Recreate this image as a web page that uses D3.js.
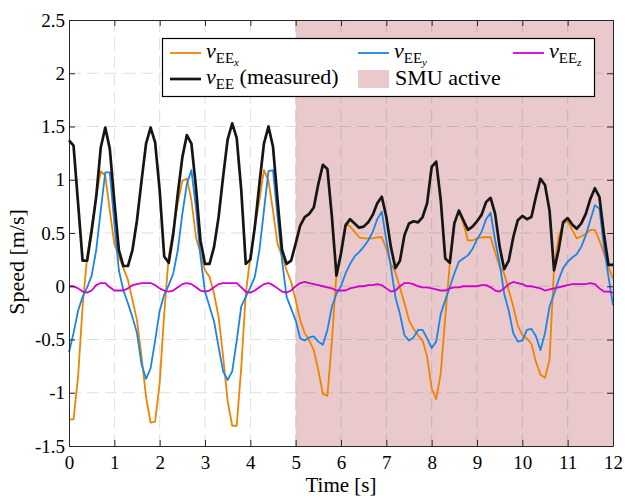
<!DOCTYPE html>
<html><head><meta charset="utf-8">
<script src="https://cdn.jsdelivr.net/npm/d3@7"></script>
<style>body{margin:0;background:#fff}</style>
</head><body><svg id="c" width="625" height="498" font-family="Liberation Serif"></svg>
<script>
// ---- data (sampled every 0.1 s) ----
const time = d3.range(0, 121).map(i => i / 10);
const vEEx = [-1.25,-1.25,-0.85,-0.19,0.28,0.56,0.84,1.08,1.04,0.71,
 0.40,0.28,0.17,0.06,-0.13,-0.32,-0.66,-1.04,-1.28,-1.27,
 -0.91,-0.26,0.28,0.53,0.78,0.99,1.01,0.81,0.46,0.31,
 0.15,0.09,-0.07,-0.29,-0.66,-1.08,-1.31,-1.31,-0.76,-0.07,
 0.28,0.56,0.81,1.09,0.99,0.71,0.40,0.28,0.15,0.04,
 -0.13,-0.32,-0.44,-0.51,-0.60,-0.79,-1.01,-1.03,-0.51,0.12,
 0.30,0.59,0.56,0.51,0.46,0.45,0.45,0.45,0.46,0.46,
 0.35,0.21,0.13,-0.01,-0.16,-0.32,-0.40,-0.46,-0.51,-0.66,
 -0.96,-1.06,-0.82,-0.29,0.21,0.59,0.70,0.59,0.43,0.43,
 0.45,0.46,0.46,0.46,0.32,0.18,0.12,-0.04,-0.19,-0.37,
 -0.46,-0.49,-0.54,-0.71,-0.83,-0.86,-0.69,0.18,0.46,0.59,
 0.61,0.53,0.45,0.47,0.49,0.53,0.53,0.43,0.31,0.18,0.07];
const vEEy = [-0.62,-0.44,-0.23,-0.10,-0.01,0.10,0.34,0.71,1.07,1.07,
 0.59,0.15,-0.04,-0.16,-0.29,-0.44,-0.73,-0.87,-0.77,-0.51,
 -0.23,-0.08,0.01,0.12,0.34,0.68,0.96,1.09,0.74,0.28,
 -0.05,-0.19,-0.33,-0.57,-0.80,-0.88,-0.80,-0.51,-0.19,-0.10,
 -0.01,0.09,0.34,0.71,1.08,1.09,0.65,0.24,-0.10,-0.21,
 -0.32,-0.49,-0.51,-0.48,-0.47,-0.52,-0.55,-0.41,-0.19,-0.07,
 0.00,0.12,0.21,0.28,0.32,0.37,0.43,0.51,0.63,0.70,
 0.43,0.18,-0.10,-0.26,-0.46,-0.51,-0.48,-0.41,-0.41,-0.49,
 -0.58,-0.52,-0.26,-0.13,-0.01,0.12,0.23,0.26,0.29,0.35,
 0.44,0.51,0.63,0.69,0.43,0.21,-0.07,-0.23,-0.44,-0.52,
 -0.51,-0.41,-0.40,-0.47,-0.60,-0.44,-0.19,-0.07,0.06,0.17,
 0.23,0.27,0.30,0.37,0.48,0.62,0.76,0.73,0.37,0.09,-0.18];
const vEEz = [0.00,0.00,-0.02,-0.05,-0.06,-0.04,0.01,0.03,0.03,-0.01,
 -0.04,-0.04,-0.04,-0.02,0.01,0.02,0.03,0.03,0.03,0.01,
 -0.02,-0.04,-0.05,-0.04,-0.01,0.02,0.03,0.02,-0.01,-0.04,
 -0.05,-0.04,-0.01,0.02,0.03,0.03,0.03,0.03,-0.01,-0.05,
 -0.06,-0.04,-0.01,0.02,0.03,0.01,-0.02,-0.05,-0.06,-0.04,
 0.00,0.03,0.04,0.03,0.02,0.01,0.00,-0.01,-0.02,-0.04,
 -0.04,-0.04,-0.02,-0.01,0.00,0.00,0.01,0.01,0.02,0.01,
 -0.02,-0.05,-0.04,0.00,0.03,0.03,0.02,0.00,-0.01,-0.01,
 -0.02,-0.03,-0.04,-0.04,-0.02,-0.01,-0.01,0.00,0.00,0.00,
 0.00,0.01,0.01,-0.01,-0.04,-0.05,-0.02,0.02,0.04,0.03,
 0.02,0.00,0.00,-0.01,-0.02,-0.04,-0.03,-0.02,-0.01,0.00,
 0.01,0.02,0.02,0.02,0.02,0.03,0.02,-0.02,-0.05,-0.05,-0.06];
const vEE = [1.37,1.32,0.78,0.24,0.24,0.52,0.84,1.30,1.49,1.29,
 0.80,0.34,0.19,0.19,0.34,0.62,0.99,1.34,1.49,1.35,
 0.90,0.28,0.22,0.49,0.87,1.21,1.42,1.34,0.93,0.43,
 0.21,0.21,0.37,0.65,1.03,1.38,1.53,1.39,0.90,0.21,
 0.25,0.56,0.96,1.34,1.50,1.31,0.81,0.34,0.21,0.24,
 0.40,0.57,0.65,0.68,0.74,0.96,1.14,1.10,0.65,0.10,
 0.31,0.57,0.63,0.59,0.55,0.56,0.60,0.67,0.78,0.84,
 0.65,0.37,0.17,0.24,0.48,0.59,0.61,0.60,0.65,0.78,
 1.12,1.17,0.81,0.26,0.22,0.59,0.71,0.62,0.53,0.56,
 0.61,0.67,0.79,0.83,0.68,0.37,0.16,0.24,0.46,0.62,
 0.66,0.63,0.65,0.84,1.01,0.95,0.71,0.15,0.34,0.60,
 0.64,0.58,0.54,0.59,0.68,0.82,0.92,0.84,0.49,0.20,0.20];
const smuInterval = [5, 12];
const xTicks = [0,1,2,3,4,5,6,7,8,9,10,11,12];
const yTicks = [-1.5,-1,-0.5,0,0.5,1,1.5,2,2.5];
const xDomain = [0, 12];
const yDomain = [-1.5, 2.5];

// ---- drawing ----
const FONT = "Liberation Serif";
const svg = d3.select("#c");
const L = 69, R = 613, T = 20, B = 446;
const x = d3.scaleLinear().domain(xDomain).range([L, R]);
const y = d3.scaleLinear().domain(yDomain).range([B, T]);
const axisCol = "#262626";

// SMU shading
svg.append("rect").attr("x", x(smuInterval[0])).attr("y", T)
  .attr("width", x(smuInterval[1]) - x(smuInterval[0])).attr("height", B - T)
  .attr("fill", "#e9c9cc");

// grid
const grid = svg.append("g").attr("stroke", "#262626").attr("stroke-opacity", 0.15)
  .attr("stroke-dasharray", "12,6").attr("stroke-width", 1);
grid.selectAll("line.v").data(xTicks.slice(1, -1)).join("line")
  .attr("x1", d => x(d)).attr("x2", d => x(d)).attr("y1", T).attr("y2", B);
grid.selectAll("line.h").data(yTicks.slice(1, -1)).join("line")
  .attr("y1", d => y(d)).attr("y2", d => y(d)).attr("x1", L).attr("x2", R);

// lines
const series = [
  {v: vEEx, c: "#ef8400", w: 1.8},
  {v: vEEy, c: "#1a85e6", w: 1.8},
  {v: vEEz, c: "#d000d0", w: 1.8},
  {v: vEE,  c: "#151515", w: 2.7}
];
const line = d3.line().x((d, i) => x(time[i])).y(d => y(d));
svg.selectAll("path.s").data(series).join("path")
  .attr("fill", "none").attr("stroke", d => d.c).attr("stroke-width", d => d.w)
  .attr("stroke-linejoin", "round").attr("d", d => line(d.v));

// axes
const ax = (g, a) => { g.call(a); g.attr("font-family", FONT).attr("font-size", 19);
  g.select(".domain").attr("stroke", axisCol);
  g.selectAll(".tick line").attr("stroke", axisCol);
  g.selectAll("text").attr("fill", "#000").attr("font-family", FONT).attr("font-size", 19); };
svg.append("g").attr("transform", `translate(0,${B})`)
  .call(g => ax(g, d3.axisBottom(x).tickValues(xTicks).tickSizeInner(-6).tickSizeOuter(0).tickPadding(10).tickFormat(d => String(d))));
svg.append("g").attr("transform", `translate(${L},0)`)
  .call(g => ax(g, d3.axisLeft(y).tickValues(yTicks).tickSizeInner(-6).tickSizeOuter(0).tickPadding(4).tickFormat(d => String(d))));
svg.append("g").attr("transform", `translate(0,${T})`)
  .call(g => ax(g, d3.axisTop(x).tickValues(xTicks).tickSizeInner(-6).tickSizeOuter(0).tickFormat("")));
svg.append("g").attr("transform", `translate(${R},0)`)
  .call(g => ax(g, d3.axisRight(y).tickValues(yTicks).tickSizeInner(-6).tickSizeOuter(0).tickFormat("")));

// axis labels
svg.append("text").attr("x", (L + R) / 2).attr("y", 492).attr("text-anchor", "middle")
  .attr("font-family", FONT).attr("font-size", 21).text("Time [s]");
svg.append("text").attr("transform", `translate(24,262) rotate(-90)`)
  .attr("text-anchor", "middle").attr("font-family", FONT).attr("font-size", 22).text("Speed [m/s]");

// legend
const lg = svg.append("g").attr("font-family", FONT);
lg.append("rect").attr("x", 162.5).attr("y", 38.5).attr("width", 432).attr("height", 58)
  .attr("fill", "#fff").attr("stroke", "#000").attr("stroke-width", 1.2);
function vLabel(xp, base, sub) {
  const t = lg.append("text").attr("x", xp).attr("y", base).attr("font-size", 22).attr("font-family", FONT);
  t.append("tspan").attr("font-style", "italic").text("v");
  t.append("tspan").attr("y", base + 5).attr("font-size", 15).text("EE");
  if (sub) t.append("tspan").attr("y", base + 8).attr("font-size", 11).attr("font-style", "italic").text(sub);
  return t;
}
const leg = [
  {x: 170, y: 53, c: "#ef8400", w: 1.8, sub: "x"},
  {x: 358, y: 53, c: "#1a85e6", w: 1.8, sub: "y"},
  {x: 513, y: 53, c: "#d000d0", w: 1.8, sub: "z"},
  {x: 170, y: 79, c: "#151515", w: 2.7, sub: null}
];
leg.forEach(d => {
  lg.append("line").attr("x1", d.x).attr("x2", d.x + 31).attr("y1", d.y).attr("y2", d.y)
    .attr("stroke", d.c).attr("stroke-width", d.w);
  const t = vLabel(d.x + 36, d.y + 5, d.sub);
  if (!d.sub) t.append("tspan").attr("y", d.y + 5).text(" (measured)");
});
lg.append("rect").attr("x", 358).attr("y", 70).attr("width", 31).attr("height", 18).attr("fill", "#e9c9cc");
lg.append("text").attr("x", 395).attr("y", 85).attr("font-size", 22).attr("font-family", FONT).text("SMU active");
</script></body></html>
